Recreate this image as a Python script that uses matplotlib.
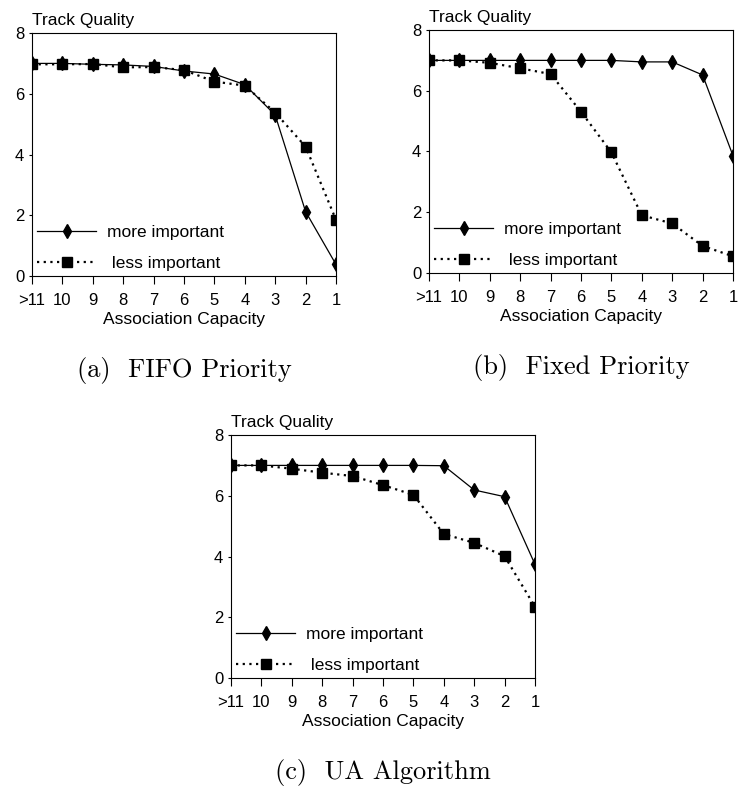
import matplotlib
matplotlib.use('Agg')
import matplotlib.pyplot as plt

plt.rcParams['font.family'] = ['Liberation Sans', 'DejaVu Sans']

capacity = ['>11', '10', '9', '8', '7', '6', '5', '4', '3', '2', '1']

fifo_more = [7.0, 7.0, 6.97, 6.95, 6.9, 6.75, 6.65, 6.3, 5.3, 2.12, 0.38]
fifo_less = [6.97, 6.97, 6.98, 6.87, 6.88, 6.78, 6.4, 6.27, 5.38, 4.26, 1.85]

fixed_more = [7.0, 7.0, 7.0, 7.0, 7.0, 7.0, 7.0, 6.95, 6.95, 6.52, 3.86]
fixed_less = [7.0, 7.0, 6.92, 6.74, 6.55, 5.31, 3.97, 1.9, 1.63, 0.89, 0.55]

ua_more = [7.0, 7.0, 7.0, 7.0, 7.0, 7.0, 7.0, 6.99, 6.19, 5.97, 3.74]
ua_less = [7.0, 7.0, 6.89, 6.76, 6.65, 6.35, 6.03, 4.74, 4.45, 4.01, 2.34]

captions = ['(a)  FIFO Priority', '(b)  Fixed Priority', '(c)  UA Algorithm']

fig = plt.figure(figsize=(7.44, 7.94), dpi=100)
boxes = [[0.043, 0.6524, 0.4086, 0.306],
         [0.5766, 0.6562, 0.4086, 0.306],
         [0.3105, 0.1461, 0.4086, 0.306]]
series = [(fifo_more, fifo_less), (fixed_more, fixed_less), (ua_more, ua_less)]

x = list(range(len(capacity)))
for box, (more, less), cap in zip(boxes, series, captions):
    ax = fig.add_axes(box)
    ax.plot(x, more, color='black', lw=0.9, marker='d', ms=7,
            label='more important')
    ax.plot(x, less, color='black', lw=1.6, ls=(0, (1, 2)), marker='s', ms=6.5,
            label=' less important')
    ax.set_xlim(0, 10)
    ax.set_ylim(0, 8)
    ax.set_yticks([0, 2, 4, 6, 8])
    ax.set_xticks(x)
    ax.set_xticklabels(capacity)
    ax.tick_params(axis='x', direction='out', length=6, width=0.8, labelsize=12, pad=6.5)
    ax.tick_params(axis='y', direction='out', length=2.5, width=0.8, labelsize=12, pad=3)
    for s in ax.spines.values():
        s.set_linewidth(0.8)
    ax.set_xlabel('Association Capacity', fontsize=12.5, labelpad=2.5)
    ax.text(0, 1.033, 'Track Quality', transform=ax.transAxes, fontsize=12.5,
            ha='left', va='baseline')
    ax.legend(loc='lower left', frameon=False, fontsize=12.5, handlelength=3.4,
              handletextpad=0.6, labelspacing=0.9, borderpad=0.1,
              borderaxespad=0.2)
    ax.text(0.5, -0.39, cap, transform=ax.transAxes, fontsize=19,
            family='cmr10', ha='center', va='center')

fig.savefig('out.png', dpi=100)
